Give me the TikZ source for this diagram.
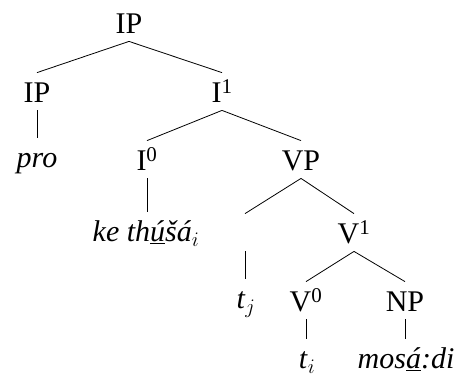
\documentclass[tikz,border=0pt]{standalone}
\usepackage{fontspec}
\setmainfont{Liberation Serif}
\begin{document}
\begin{tikzpicture}[x=1bp,y=-1bp,line width=.8bp]
      \useasboundingbox (0,0) rectangle (459,384);

      \begin{scope}[every node/.style={anchor=base, font=\fontsize{30bp}{34bp}\selectfont,
          text height=21bp, text depth=0pt, inner ysep=8bp, inner xsep=2bp}]
        \node (ip)   at (129,33)  {IP};
        \node (spec) at (37,102)  {IP};
        \node (pro)  at (37,167)  {\textit{pro}};
        \node (ibar) at (222,102) {I\textsuperscript{1}};
        \node (infl) at (147,170) {I\textsuperscript{0}};
        \node (vfin) at (146,241) {\textit{ke th\underline{ú}šá}$_i$};
        \node (vp)   at (301,170) {VP};
        \node (gap)  at (245,243) {};
        \node (tj)   at (246,308) {\textit{t}$_j$};
        \node (vbar) at (354,243) {V\textsuperscript{1}};
        \node (v)    at (306,311) {V\textsuperscript{0}};
        \node (ti)   at (307,368) {\textit{t}$_i$};
        \node (np)   at (405,311) {NP};
        \node (obj)  at (406,368) {\textit{mos\underline{á}:di}};
      \end{scope}

      \begin{scope}[every edge/.style={draw}]
        \path (ip.south)   edge (spec.north);
        \path (ip.south)   edge (ibar.north);
        \path (spec.south) edge (pro.north);
        \path (ibar.south) edge (infl.north);
        \path (ibar.south) edge (vp.north);
        \path (infl.south) edge (infl.south |- vfin.north);
        \path (vp.south)   edge (gap.north);
        \path (vp.south)   edge (vbar.north);
        \path (gap.south)  edge (gap.south |- tj.north);
        \path (vbar.south) edge (v.north);
        \path (vbar.south) edge (np.north);
        \path (v.south)    edge (v.south |- ti.north);
        \path (np.south)   edge (np.south |- obj.north);
      \end{scope}

    \end{tikzpicture}
\end{document}
